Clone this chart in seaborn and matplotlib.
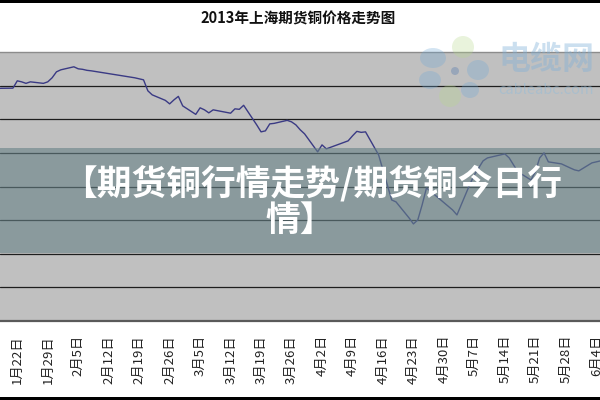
import matplotlib
matplotlib.use("Agg")
import matplotlib.pyplot as plt
import matplotlib.dates as mdates
from matplotlib.patches import Rectangle, Ellipse
import pandas as pd
import seaborn as sns

# ---------------- data ----------------
dates = [
    "2013-01-17", "2013-01-18", "2013-01-21", "2013-01-22", "2013-01-23", "2013-01-24", "2013-01-25",
    "2013-01-28", "2013-01-29", "2013-01-30", "2013-01-31", "2013-02-01",
    "2013-02-04", "2013-02-05", "2013-02-06", "2013-02-07", "2013-02-08",
    "2013-02-18", "2013-02-19", "2013-02-20", "2013-02-21", "2013-02-22",
    "2013-02-25", "2013-02-26", "2013-02-27", "2013-02-28", "2013-03-01",
    "2013-03-04", "2013-03-05", "2013-03-06", "2013-03-07", "2013-03-08",
    "2013-03-11", "2013-03-12", "2013-03-13", "2013-03-14", "2013-03-15",
    "2013-03-18", "2013-03-19", "2013-03-20", "2013-03-21", "2013-03-22",
    "2013-03-25", "2013-03-26", "2013-03-27", "2013-03-28", "2013-03-29",
    "2013-04-01", "2013-04-02", "2013-04-03",
    "2013-04-08", "2013-04-09", "2013-04-10", "2013-04-11", "2013-04-12",
    "2013-04-15", "2013-04-16", "2013-04-17", "2013-04-18", "2013-04-19",
    "2013-04-22", "2013-04-23", "2013-04-24", "2013-04-25", "2013-04-26",
    "2013-05-02", "2013-05-03",
    "2013-05-06", "2013-05-07", "2013-05-08", "2013-05-09", "2013-05-10",
    "2013-05-13", "2013-05-14", "2013-05-15", "2013-05-16", "2013-05-17",
    "2013-05-20", "2013-05-21", "2013-05-22", "2013-05-23", "2013-05-24",
    "2013-05-27", "2013-05-28", "2013-05-29", "2013-05-30", "2013-05-31",
    "2013-06-03", "2013-06-04", "2013-06-05", "2013-06-06",
]
prices = [
    57630, 57840, 57850, 58285, 58225, 58135, 58225,
    58135, 58225, 58465, 58820, 58940,
    59120, 59000, 58970, 58910, 58880,
    58465, 58405, 58345, 57690, 57450,
    57125, 56915, 57155, 57360, 56795,
    56290, 56680, 56560, 56380, 56560,
    56410, 56360, 56620, 56590, 56830,
    55665, 55250, 55310, 55725, 55755,
    55935, 55845, 55665, 55370, 55130,
    54060, 54475, 54240,
    54715, 55010, 55280, 55220, 55250,
    53880, 52990, 52095, 51200, 51085,
    50130, 49775, 50010, 50905, 51915,
    50605, 50310,
    52155, 52690, 53105, 53525, 53700,
    53880, 53940, 53700, 53285, 52870,
    52390, 52870, 53700, 54000, 53465,
    53345, 53225, 53105, 52990, 52930,
    53405, 53465, 53525, 53700,
]
tick_dates = [
    "2013-01-22", "2013-01-29", "2013-02-05", "2013-02-12", "2013-02-19", "2013-02-26",
    "2013-03-05", "2013-03-12", "2013-03-19", "2013-03-26", "2013-04-02", "2013-04-09",
    "2013-04-16", "2013-04-23", "2013-04-30", "2013-05-07", "2013-05-14", "2013-05-21",
    "2013-05-28", "2013-06-04",
]
tick_labels = [
    "1月22日", "1月29日", "2月5日", "2月12日", "2月19日", "2月26日",
    "3月5日", "3月12日", "3月19日", "3月26日", "4月2日", "4月9日",
    "4月16日", "4月23日", "4月30日", "5月7日", "5月14日", "5月21日",
    "5月28日", "6月4日",
]
title = "2013年上海期货铜价格走势图"
overlay_lines = ["【期货铜行情走势/期货铜今日行", "情】"]
watermark_cn = "电缆网"
watermark_en = "cableabc.com"

# ---------------- style ----------------
sns.set_style("white")
plt.rcParams['font.family'] = ['Noto Sans CJK SC', 'DejaVu Sans']

W, H = 600, 400
fig = plt.figure(figsize=(6, 4), dpi=100)
fig.patch.set_facecolor("white")

def fy(py):
    return 1 - py / H

plot_top, plot_bot = 52, 321
ax = fig.add_axes([0, fy(plot_bot), 1, (plot_bot - plot_top) / H])
ax.set_facecolor("#c0c0c0")

df = pd.DataFrame({"date": pd.to_datetime(dates), "price": prices})
sns.lineplot(data=df, x="date", y="price", ax=ax, color="#3a3a84", linewidth=1.0)

t0 = mdates.date2num(pd.Timestamp("2013-01-22"))
ax.set_xlim(t0 - 3.97, t0 + 133.86)
ax.set_ylim(44000, 60000)
ax.set_yticks(list(range(46000, 60000, 2000)))
ax.yaxis.grid(True, color="#1e1e1e", linewidth=0.9)
ax.xaxis.grid(False)
ax.tick_params(axis="y", left=False, labelleft=False)

ax.set_xticks(mdates.date2num(pd.to_datetime(tick_dates)))
ax.set_xticklabels(tick_labels, rotation=90, fontsize=9.5, color="#222222")
ax.tick_params(axis="x", direction="in", length=4, width=0.8, color="#333333", pad=10)
ax.set_xlabel("")
ax.set_ylabel("")

for s in ("left", "right"):
    ax.spines[s].set_visible(False)
ax.spines["top"].set_color("#8c8c8c")
ax.spines["top"].set_linewidth(1.0)
ax.spines["bottom"].set_color("#5a5a5a")
ax.spines["bottom"].set_linewidth(1.6)

# title
fig.text(298 / W, fy(18.5), title, fontsize=10.5, fontweight="bold",
         ha="center", va="center", color="#111111")

# watermark logo
petals = [
    ((433, 58), 26, 20, "#6fa8d6"),
    ((463, 47), 22, 22, "#b7d98c"),
    ((478, 70), 22, 20, "#6fa8d6"),
    ((450, 96), 22, 22, "#b7d98c"),
    ((430, 80), 22, 18, "#6fa8d6"),
    ((470, 90), 18, 16, "#6fa8d6"),
]
for (px, py), w, h, c in petals:
    fig.add_artist(Ellipse((px / W, fy(py)), w / W, h / H, transform=fig.transFigure,
                           facecolor=c, edgecolor="none", alpha=0.3, zorder=3))
fig.add_artist(Ellipse((455 / W, fy(71)), 8 / W, 8 / H, transform=fig.transFigure,
                       facecolor="#5d7fb0", edgecolor="none", alpha=0.4, zorder=3))
fig.text(498 / W, fy(60), watermark_cn, fontsize=23, fontweight="bold", color="#7fb0d8",
         alpha=0.4, ha="left", va="center", zorder=3)
fig.text(498 / W, fy(90), watermark_en, fontsize=10.5, color="#8fbcdc",
         alpha=0.45, ha="left", va="center", zorder=3)

# translucent banner
fig.add_artist(Rectangle((0, fy(253)), 1, (253 - 148) / H, transform=fig.transFigure,
                         facecolor=(102 / 255, 129 / 255, 135 / 255), edgecolor="none",
                         alpha=0.6, zorder=5))
fig.text(312 / W, fy(183), overlay_lines[0], fontsize=25, fontweight="bold",
         color="white", ha="center", va="center", zorder=6)
fig.text(300 / W, fy(220), overlay_lines[1], fontsize=25, fontweight="bold",
         color="white", ha="center", va="center", zorder=6)

# black border stripes
fig.add_artist(Rectangle((0, fy(2.5)), 1, 2.5 / H, transform=fig.transFigure,
                         facecolor="black", edgecolor="none", zorder=7))
fig.add_artist(Rectangle((0, 0), 1, 3 / H, transform=fig.transFigure,
                         facecolor="black", edgecolor="none", zorder=7))

fig.savefig("out.png", dpi=100)
